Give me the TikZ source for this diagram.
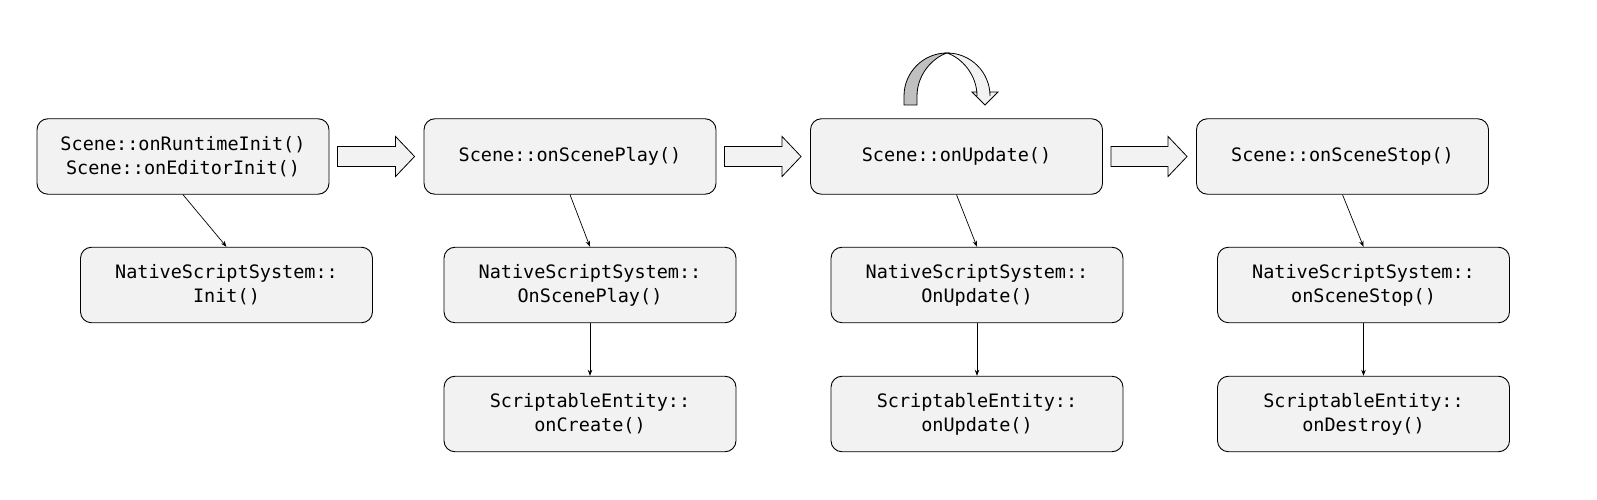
\documentclass[tikz,border=0pt]{standalone}
\usepackage{fontspec}
\setmonofont{DejaVu Sans Mono}
\usepackage{tikz}
\usetikzlibrary{arrows.meta, calc}

\definecolor{boxfill}{HTML}{F2F2F2}
\definecolor{loopgray}{HTML}{C0C0C0}

% wide hollow arrow from one top box to the next
\newcommand\fatarrow[2]{%
  \draw[fat] let \p1=([xshift=8pt]#1.east), \p2=([xshift=-9pt]#2.west) in
    (\x1,\y1+10pt) -- (\x2-19pt,\y1+10pt) -- (\x2-19pt,\y1+20pt) -- (\x2,\y1)
    -- (\x2-19pt,\y1-20pt) -- (\x2-19pt,\y1-10pt) -- (\x1,\y1-10pt) -- cycle;}

\begin{document}
\begin{tikzpicture}[x=1pt, y=1pt,
    fn/.style={draw, line width=0.9pt, fill=boxfill, rounded corners=11pt, align=center,
               minimum width=292pt, minimum height=75.5pt, inner sep=0pt,
               font=\ttfamily\fontsize{18.5}{24}\selectfont},
    fat/.style={draw, line width=0.8pt, fill=boxfill},
    call/.style={-{Stealth[length=6pt, width=4.5pt]}, line width=0.7pt}]
      \useasboundingbox (0,0) rectangle (1597,500);

      \node[fn]  (Init)     at ( 183.0, 343.5)  {Scene::onRuntimeInit()\\Scene::onEditorInit()};
      \node[fn]  (Play)     at ( 570.0, 343.5)  {Scene::onScenePlay()};
      \node[fn]  (Update)   at ( 956.5, 343.5)  {Scene::onUpdate()};
      \node[fn]  (Stop)     at (1342.5, 343.5)  {Scene::onSceneStop()};

      \node[fn]  (NSInit)   at ( 226.5, 215.0)  {NativeScriptSystem::\\Init()};
      \node[fn]  (NSPlay)   at ( 590.0, 215.0)  {NativeScriptSystem::\\OnScenePlay()};
      \node[fn]  (NSUpdate) at ( 977.0, 215.0)  {NativeScriptSystem::\\OnUpdate()};
      \node[fn]  (NSStop)   at (1363.5, 215.0)  {NativeScriptSystem::\\onSceneStop()};

      \node[fn]  (SECreate)  at ( 590.0,  86.0)  {ScriptableEntity::\\onCreate()};
      \node[fn]  (SEUpdate)  at ( 977.0,  86.0)  {ScriptableEntity::\\onUpdate()};
      \node[fn]  (SEDestroy) at (1363.5,  86.0)  {ScriptableEntity::\\onDestroy()};

      \fatarrow{Init}{Play}
      \fatarrow{Play}{Update}
      \fatarrow{Update}{Stop}

      \draw[call] (Init.south)   -- (NSInit.north);
      \draw[call] (Play.south)   -- (NSPlay.north);
      \draw[call] (Update.south) -- (NSUpdate.north);
      \draw[call] (Stop.south)   -- (NSStop.north);

      \draw[call] (NSPlay.south)   -- (SECreate.north);
      \draw[call] (NSUpdate.south) -- (SEUpdate.north);
      \draw[call] (NSStop.south)   -- (SEDestroy.north);

      % loop arrow over onUpdate
      \draw[fat] (947,447) arc[start angle=90, end angle=0, radius=43] -- (990,408) -- (998,408)
        -- (985,395) -- (972,408) -- (977,408) -- (977,404)
        .. controls (977,425) and (962,442) .. (947,447) -- cycle;
      \draw[fat, fill=loopgray] (904,395) -- (904,404) arc[start angle=180, end angle=90, radius=43]
        .. controls (932,442) and (917,425) .. (917,404) -- (917,395) -- cycle;
    \end{tikzpicture}
\end{document}
